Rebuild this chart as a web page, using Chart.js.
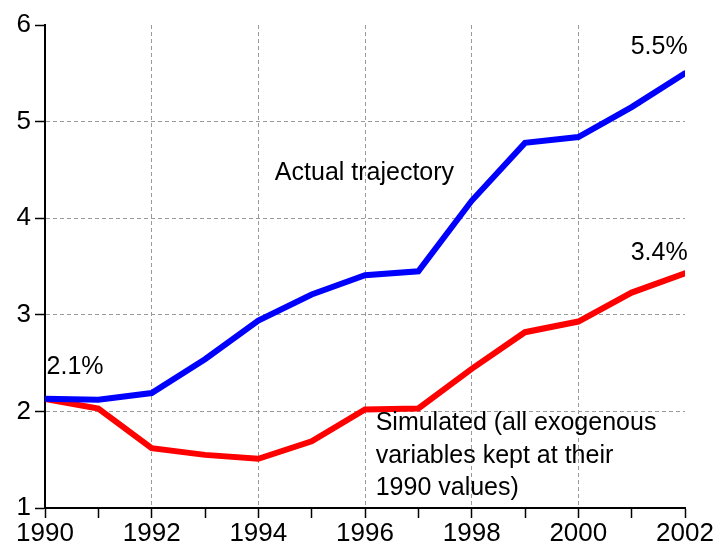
<!DOCTYPE html>
<html lang="en">
<head>
    <meta charset="UTF-8">
    <title>Actual vs simulated trajectory</title>
    <script src="https://cdn.jsdelivr.net/npm/chart.js"></script>
    <style>
body {
    margin: 0;
    padding: 0;
    background: #fff;
}
canvas {
    display: block;
}
    </style>
</head>
<body>
    <canvas id="trajectory" width="720" height="547"></canvas>
    <script>
        // values
        const years = [1990, 1991, 1992, 1993, 1994, 1995, 1996, 1997, 1998, 1999, 2000, 2001, 2002];
        const actual = [2.13, 2.12, 2.19, 2.54, 2.94, 3.21, 3.41, 3.45, 4.18, 4.78, 4.84, 5.15, 5.50];
        const simulated = [2.13, 2.03, 1.62, 1.55, 1.51, 1.69, 2.02, 2.03, 2.44, 2.82, 2.93, 3.23, 3.43];
        const yTicks = [1, 2, 3, 4, 5, 6];

        const FONT = "'Liberation Sans', Arial, sans-serif";
        const GRID = '#9a9a9a';

        // text notes, placed in data units
        const notes = [
            { text: 'Actual trajectory', x: 1994.31, y: 4.47, align: 'left' },
            { text: '5.5%', x: 2002.05, y: 5.77, align: 'right' },
            { text: '3.4%', x: 2002.05, y: 3.64, align: 'right' },
            { text: '2.1%', x: 1990.03, y: 2.46, align: 'left' },
            { text: 'Simulated (all exogenous', x: 1996.2, y: 1.88, align: 'left' },
            { text: 'variables kept at their', x: 1996.2, y: 1.54, align: 'left' },
            { text: '1990 values)', x: 1996.2, y: 1.21, align: 'left' }
        ];

        const notePlugin = {
            id: 'notes',
            afterDatasetsDraw(chart) {
                const { ctx, scales } = chart;
                ctx.save();
                ctx.font = '25px ' + FONT;
                ctx.fillStyle = '#000';
                ctx.textBaseline = 'middle';
                notes.forEach(n => {
                    ctx.textAlign = n.align;
                    ctx.fillText(n.text, scales.x.getPixelForValue(n.x), scales.y.getPixelForValue(n.y));
                });
                ctx.restore();
            }
        };

        const toPoints = arr => arr.map((v, i) => ({ x: years[i], y: v }));

        const ctx = document.getElementById('trajectory').getContext('2d');

        const chart = new Chart(ctx, {
            type: 'line',
            data: {
                datasets: [{
                    label: 'Actual trajectory',
                    data: toPoints(actual),
                    borderColor: '#0000ff',
                    borderWidth: 6,
                    borderCapStyle: 'round',
                    pointRadius: 0,
                    tension: 0
                }, {
                    label: 'Simulated',
                    data: toPoints(simulated),
                    borderColor: '#ff0000',
                    borderWidth: 6,
                    borderCapStyle: 'round',
                    pointRadius: 0,
                    tension: 0
                }]
            },
            options: {
                responsive: false,
                animation: false,
                layout: {
                    padding: { top: 25, right: 35, bottom: 0, left: 0 }
                },
                plugins: {
                    legend: { display: false },
                    tooltip: { enabled: false }
                },
                scales: {
                    x: {
                        type: 'linear',
                        min: years[0],
                        max: years[years.length - 1],
                        afterFit: s => { s.height = 39; },
                        ticks: {
                            stepSize: 1,
                            autoSkip: false,
                            maxRotation: 0,
                            padding: 3,
                            color: '#000',
                            font: { family: FONT, size: 26, lineHeight: 1 },
                            callback: v => (v % 2 === 0 ? String(v) : '')
                        },
                        grid: {
                            color: c => {
                                const v = c.tick && c.tick.value;
                                return (v % 2 === 0 && v > years[0] && v < years[years.length - 1]) ? GRID : 'rgba(0,0,0,0)';
                            },
                            lineWidth: 1,
                            tickColor: '#000',
                            tickWidth: 1.5,
                            tickLength: 10
                        },
                        border: { color: '#000', width: 2, dash: [4, 3] }
                    },
                    y: {
                        min: yTicks[0],
                        max: yTicks[yTicks.length - 1],
                        afterFit: s => { s.width = 45; },
                        afterBuildTicks: s => { s.ticks = yTicks.map(v => ({ value: v })); },
                        ticks: {
                            padding: 4,
                            color: '#000',
                            font: { family: FONT, size: 26 },
                            callback: v => String(v)
                        },
                        grid: {
                            color: c => {
                                const v = c.tick && c.tick.value;
                                return (v > yTicks[0] && v < yTicks[yTicks.length - 1]) ? GRID : 'rgba(0,0,0,0)';
                            },
                            lineWidth: 1,
                            tickColor: '#000',
                            tickWidth: 1.5,
                            tickLength: 10
                        },
                        border: { color: '#000', width: 2, dash: [4, 3] }
                    }
                }
            },
            plugins: [notePlugin]
        });
    </script>
</body>
</html>
